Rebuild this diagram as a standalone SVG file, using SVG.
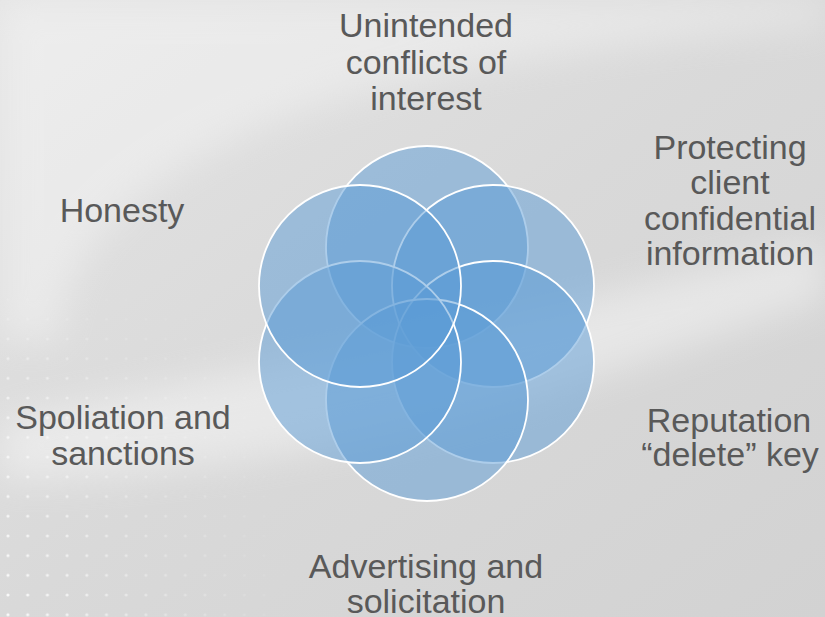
<svg xmlns="http://www.w3.org/2000/svg" width="825" height="617" viewBox="0 0 825 617">
  <defs>
    <linearGradient id="bg" x1="0" y1="0" x2="1" y2="1">
      <stop offset="0" stop-color="#e4e4e4"/>
      <stop offset="0.5" stop-color="#d9d9d9"/>
      <stop offset="1" stop-color="#d2d2d2"/>
    </linearGradient>
    <filter id="blur" x="-20%" y="-20%" width="140%" height="140%">
      <feGaussianBlur stdDeviation="18"/>
    </filter>
    <pattern id="dots" x="8" y="4" width="19.7" height="19.7" patternUnits="userSpaceOnUse">
      <circle cx="0" cy="0" r="1.6" fill="#ffffff"/>
      <circle cx="19.7" cy="0" r="1.6" fill="#ffffff"/>
      <circle cx="0" cy="19.7" r="1.6" fill="#ffffff"/>
      <circle cx="19.7" cy="19.7" r="1.6" fill="#ffffff"/>
    </pattern>
    <linearGradient id="fadeX" x1="0" y1="0" x2="1" y2="0">
      <stop offset="0" stop-color="#fff" stop-opacity="0.9"/>
      <stop offset="0.5" stop-color="#fff" stop-opacity="0.35"/>
      <stop offset="1" stop-color="#fff" stop-opacity="0"/>
    </linearGradient>
    <linearGradient id="fadeY" x1="0" y1="0" x2="0" y2="1">
      <stop offset="0" stop-color="#fff" stop-opacity="0"/>
      <stop offset="0.3" stop-color="#fff" stop-opacity="0.6"/>
      <stop offset="1" stop-color="#fff" stop-opacity="1"/>
    </linearGradient>
    <mask id="dotMaskY">
      <rect x="0" y="280" width="300" height="337" fill="url(#fadeY)"/>
    </mask>
    <mask id="dotMask">
      <g mask="url(#dotMaskY)">
        <rect x="0" y="280" width="300" height="337" fill="url(#fadeX)"/>
      </g>
    </mask>
    <style>
      .lbl { font-family: "Liberation Sans", Arial, sans-serif; font-size: 34px; fill: #595959; text-anchor: middle; }
      .c { fill: #5b9bd5; fill-opacity: 0.5; stroke: #ffffff; stroke-width: 1.8; }
    </style>
  </defs>

  <g id="background">
    <rect x="0" y="0" width="825" height="617" fill="url(#bg)"/>
    <path d="M60,340 C60,200 250,100 520,60 C650,40 760,30 825,25 L825,0 L0,0 L0,340 Z" fill="#ffffff" opacity="0.35" filter="url(#blur)"/>
    <path d="M0,420 C200,380 450,330 620,290 C720,265 790,250 825,240 L825,300 C760,320 650,360 520,400 C350,450 150,480 0,480 Z" fill="#ffffff" opacity="0.4" filter="url(#blur)"/>
    <rect x="0" y="280" width="300" height="337" fill="url(#dots)" mask="url(#dotMask)"/>
  </g>

  <g id="circles">
    <g id="circle-top"><circle class="c" cx="427" cy="247" r="101"/></g>
    <g id="circle-upper-right"><circle class="c" cx="493" cy="286" r="101"/></g>
    <g id="circle-lower-right"><circle class="c" cx="493" cy="362" r="101"/></g>
    <g id="circle-bottom"><circle class="c" cx="427" cy="400" r="101"/></g>
    <g id="circle-lower-left"><circle class="c" cx="360" cy="362" r="101"/></g>
    <g id="circle-upper-left"><circle class="c" cx="360" cy="286" r="101"/></g>
  </g>

  <g id="connectors"></g>

  <g id="label-top">
    <text class="lbl" x="426" y="37">Unintended</text>
    <text class="lbl" x="426" y="74">conflicts of</text>
    <text class="lbl" x="426" y="110">interest</text>
  </g>
  <g id="label-upper-right">
    <text class="lbl" x="730" y="159">Protecting</text>
    <text class="lbl" x="730" y="194">client</text>
    <text class="lbl" x="730" y="230">confidential</text>
    <text class="lbl" x="730" y="265">information</text>
  </g>
  <g id="label-lower-right">
    <text class="lbl" x="729" y="432">Reputation</text>
    <text class="lbl" x="730" y="466">“delete” key</text>
  </g>
  <g id="label-bottom">
    <text class="lbl" x="426" y="578">Advertising and</text>
    <text class="lbl" x="426" y="613">solicitation</text>
  </g>
  <g id="label-lower-left">
    <text class="lbl" x="123" y="429">Spoliation and</text>
    <text class="lbl" x="123" y="465">sanctions</text>
  </g>
  <g id="label-upper-left">
    <text class="lbl" x="122" y="222">Honesty</text>
  </g>
</svg>
